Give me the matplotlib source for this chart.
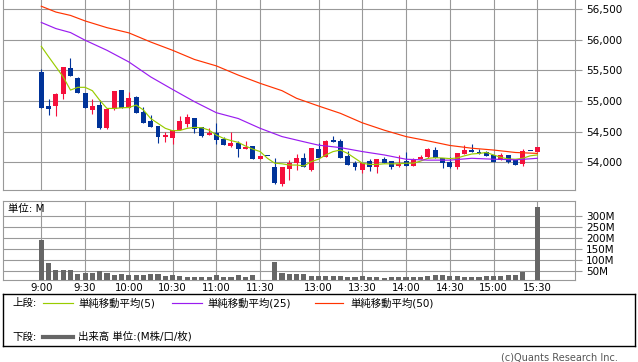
import numpy as np
import matplotlib
matplotlib.use('Agg')
import matplotlib.pyplot as plt

plt.rcParams['font.family'] = ['DejaVu Sans', 'Noto Sans CJK JP']

# 5-minute candles, slot 0 = 9:00, slot 31 = lunch gap, slot 32 = 12:30
opens = [55475, 54920, 54920, 55120, 55540, 55375, 55130, 54860, 54935, 54565,
         54865, 55180, 54890, 55060, 54820, 54675, 54590, 54420, 54400, 54520,
         54625, 54725, 54580, 54450, 54485, 54385, 54265, 54320, 54225, 54265,
         54060, 54110, 53930, 53645, 53890, 53985, 54065, 53875, 54215, 54090,
         54365, 54350, 54110, 53995, 53875, 54015, 53915, 54050, 54015, 53935,
         54025, 53945, 54055, 54080, 54200, 54075, 54010, 53915, 54135, 54200,
         54170, 54170, 54125, 54035, 54125, 54040, 53980, 54185, 54165]
highs = [55520, 55035, 55125, 55555, 55700, 55390, 55130, 55035, 55025, 54870,
         55170, 55180, 55145, 55085, 54910, 54770, 54590, 54500, 54520, 54755,
         54790, 54725, 54580, 54565, 54640, 54420, 54495, 54340, 54340, 54265,
         54110, 54110, 54065, 53930, 54040, 54135, 54145, 54230, 54310, 54365,
         54430, 54375, 54190, 54020, 53985, 54050, 54060, 54080, 54015, 54115,
         54170, 54075, 54115, 54240, 54255, 54075, 54090, 54145, 54275, 54295,
         54215, 54185, 54125, 54145, 54125, 54040, 54210, 54185, 54250]
lows = [54890, 54770, 54755, 55035, 55415, 55135, 54890, 54790, 54550, 54550,
        54855, 54890, 54890, 54800, 54645, 54580, 54320, 54330, 54305, 54520,
        54580, 54485, 54410, 54450, 54300, 54285, 54255, 54090, 54225, 54060,
        54060, 54110, 53645, 53620, 53710, 53875, 53920, 53850, 54070, 54090,
        54330, 54075, 53960, 53875, 53820, 53865, 53830, 53985, 53895, 53915,
        53945, 53945, 54055, 54070, 54070, 53900, 53910, 53890, 54135, 54165,
        54135, 54110, 54005, 54035, 53985, 53960, 53945, 54185, 54165]
closes = [54890, 54875, 55115, 55555, 55415, 55135, 54890, 54920, 54565, 54870,
          55170, 54890, 55050, 54810, 54645, 54580, 54420, 54445, 54520, 54675,
          54745, 54540, 54435, 54480, 54370, 54285, 54310, 54225, 54255, 54060,
          54110, 54110, 53660, 53930, 53995, 54065, 53920, 54230, 54070, 54350,
          54330, 54075, 53960, 53915, 53985, 53915, 54050, 53985, 53915, 53965,
          53945, 54050, 54090, 54225, 54070, 53985, 53915, 54145, 54200, 54165,
          54135, 54110, 54005, 54125, 54005, 53960, 54185, 54185, 54250]
volume = [190, 88, 55, 53, 55, 37, 43, 43, 52, 43,
          32, 37, 32, 32, 32, 37, 37, 28, 32, 26,
          24, 24, 24, 25, 32, 24, 24, 32, 24, 32,
          10, 0, 91, 43, 37, 37, 37, 28, 28, 28,
          28, 28, 23, 23, 28, 23, 23, 19, 23, 23,
          24, 22, 25, 27, 30, 34, 28, 28, 24, 24,
          24, 27, 27, 28, 32, 33, 46, 0, 340]

ma5 = [55895, 55725, 55560, 55395, 55180, 55225, 55225, 55170, 55015, 54880,
       54880, 54890, 54895, 54935, 54855, 54715, 54635, 54555, 54515, 54520,
       54555, 54570, 54565, 54525, 54445, 54390, 54355, 54325, 54265, 54215,
       54175, 54065, 53985, 53975, 53955, 53955, 53940, 54010, 54050, 54120,
       54175, 54200, 54145, 54065, 53985, 53965, 53965, 53975, 53975, 53975,
       53985, 53985, 54020, 54065, 54075, 54070, 54060, 54070, 54105, 54135,
       54145, 54160, 54120, 54080, 54055, 54050, 54065, 54105, 54120]
ma25_x = [0, 2, 4, 6, 9, 12, 15, 18, 21, 24, 27, 30, 33, 36, 38, 41, 44, 47,
          50, 53, 56, 59, 62, 65, 68]
ma25 = [56285, 56185, 56120, 55995, 55830, 55640, 55395, 55190, 54990, 54810,
        54715, 54555, 54420, 54335, 54280, 54240, 54175, 54120, 54050, 54035,
        54035, 54065, 54050, 54040, 54065]
ma50_x = [0, 2, 4, 6, 9, 12, 15, 18, 21, 24, 27, 30, 33, 35, 38, 41, 44, 47,
          50, 53, 56, 59, 62, 65, 68]
ma50 = [56550, 56455, 56400, 56310, 56200, 56115, 55965, 55830, 55680, 55575,
        55425, 55290, 55170, 55045, 54920, 54800, 54645, 54525, 54420, 54350,
        54275, 54230, 54200, 54160, 54145]

tick_slots = [0, 6, 12, 18, 24, 30, 38, 44, 50, 56, 62, 68]
tick_labels = ['9:00', '9:30', '10:00', '10:30', '11:00', '11:30',
               '13:00', '13:30', '14:00', '14:30', '15:00', '15:30']
price_ticks = [54000, 54500, 55000, 55500, 56000, 56500]
vol_ticks = [50, 100, 150, 200, 250, 300]

RED = '#f5103c'
BLUE = '#003399'
GRID = '#999999'

W, H = 638, 362
fig = plt.figure(figsize=(W / 100, H / 100), dpi=100)
ax = fig.add_axes([3 / W, 1 - 190 / H, 572 / W, 190 / H])
axv = fig.add_axes([3 / W, 1 - 280.3 / H, 572 / W, 79.3 / H])
axl = fig.add_axes([3 / W, 1 - 346 / H, 632 / W, 52 / H])

x = np.arange(len(opens))
o = np.array(opens)
c = np.array(closes)
up = c > o
cols = [RED if u else BLUE for u in up]

# candles
ax.vlines(x, lows, highs, colors=cols, lw=0.8, zorder=3)
body_bot = np.minimum(o, c)
body_h = np.maximum(np.abs(c - o), 8)
ax.bar(x, body_h, bottom=body_bot, width=0.68, color=cols, lw=0, zorder=4)

ax.plot(x, ma5, color='#99cc00', lw=0.85, zorder=5)
ax.plot(ma25_x, ma25, color='#9a1cf0', lw=0.85, zorder=5)
ax.plot(ma50_x, ma50, color='#ff3300', lw=0.85, zorder=5)

xlim = (-5.25, 73.16)
ax.set_xlim(*xlim)
ax.set_ylim(53547, 56652)
ax.set_xticks(tick_slots)
ax.set_xticklabels([])
ax.tick_params(axis='x', length=0)
ax.yaxis.tick_right()
ax.set_yticks(price_ticks)
ax.set_yticklabels(['{:,}'.format(p) for p in price_ticks])
ax.tick_params(axis='y', direction='out', length=5, width=0.8, color=GRID,
               labelsize=7.5, pad=3)
ax.grid(True, color=GRID, lw=0.8)
ax.set_axisbelow(True)
for s in ax.spines.values():
    s.set_color(GRID)
    s.set_linewidth(0.8)
ax.spines['top'].set_visible(False)

# volume
axv.bar(x, volume, width=0.7, color='#666666', lw=0, zorder=3)
axv.set_xlim(*xlim)
axv.set_ylim(8, 366)
axv.set_xticks(tick_slots)
axv.set_xticklabels(tick_labels)
axv.tick_params(axis='x', length=0, labelsize=7.3, pad=2)
axv.yaxis.tick_right()
axv.set_yticks(vol_ticks)
axv.set_yticklabels(['{}M'.format(v) for v in vol_ticks])
axv.tick_params(axis='y', direction='out', length=5, width=0.8, color=GRID,
                labelsize=7.5, pad=3)
axv.grid(True, color=GRID, lw=0.8)
axv.set_axisbelow(True)
for s in axv.spines.values():
    s.set_color(GRID)
    s.set_linewidth(0.8)
fig.text(8 / W, 1 - 209 / H, '単位: M', fontsize=7.5, va='center')

# legend box
axl.set_xlim(0, 632)
axl.set_ylim(52, 0)
axl.set_xticks([])
axl.set_yticks([])
for s in axl.spines.values():
    s.set_color('black')
    s.set_linewidth(1)
fs = 7.5
axl.text(9, 9, '上段:', fontsize=fs, va='center')
axl.plot([40, 70], [9, 9], color='#99cc00', lw=0.85)
axl.text(75, 9, '単純移動平均(5)', fontsize=fs, va='center')
axl.plot([169, 199], [9, 9], color='#9a1cf0', lw=0.85)
axl.text(204, 9, '単純移動平均(25)', fontsize=fs, va='center')
axl.plot([312, 340], [9, 9], color='#ff3300', lw=0.85)
axl.text(347, 9, '単純移動平均(50)', fontsize=fs, va='center')
axl.text(9, 42.5, '下段:', fontsize=fs, va='center')
axl.plot([40, 70], [42.5, 42.5], color='#666666', lw=3)
axl.text(75, 42.5, '出来高 単位:(M株/口/枚)', fontsize=fs, va='center')

fig.text(618 / W, 1 - 357 / H, '(c)Quants Research Inc.', fontsize=7,
         color='#555555', ha='right', va='center')

fig.savefig('out.png', dpi=100)
